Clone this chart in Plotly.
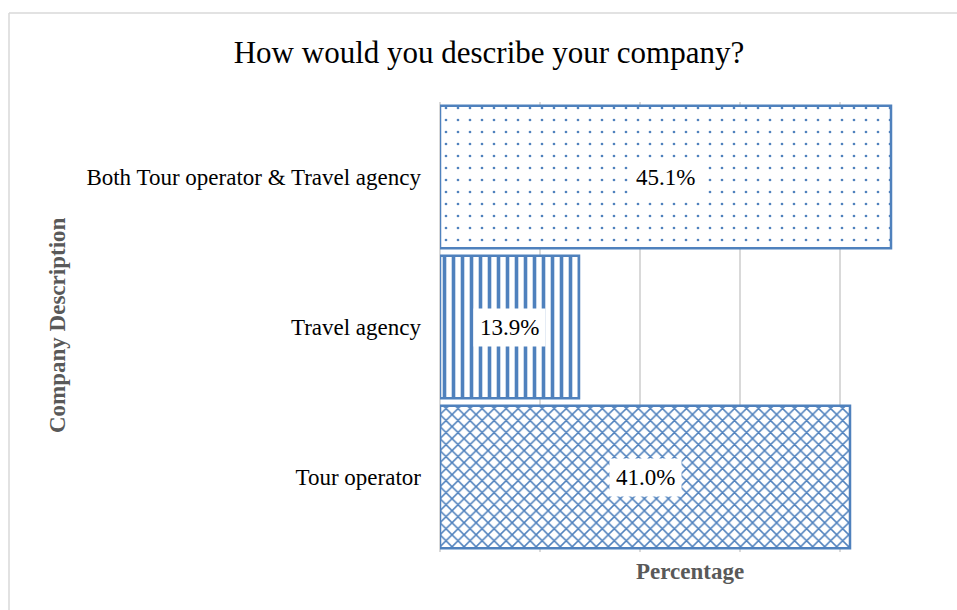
import plotly.graph_objects as go

# Survey responses: share of companies by self-description (%)
categories = ["Tour operator", "Travel agency", "Both Tour operator & Travel agency"]
shares = [41.0, 13.9, 45.1]
patterns = ["x", "|", "."]

title_text = "How would you describe your company?"
x_title = "Percentage"
y_title = "Company Description"

BLUE = "#4F81BD"
GRID = "#D9D9D9"
AXIS_GREY = "#595959"
SERIF = "Liberation Serif, Times New Roman, serif"

W, H = 957, 610
L, R, T, B = 440, 17, 102, 58
plot_w = W - L - R
plot_h = H - T - B


def px_to_paper_x(px):
    return (px - L) / plot_w


def px_to_paper_y(py):
    return (H - B - py) / plot_h


fig = go.Figure()
fig.add_trace(go.Bar(
    y=categories,
    x=shares,
    orientation="h",
    marker=dict(
        color="white",
        line=dict(color=BLUE, width=2.5),
        pattern=dict(
            shape=patterns,
            fgcolor=BLUE,
            fgopacity=1,
            bgcolor="white",
            size=[8.5, 9, 12],
            solidity=[0.32, 0.4, 0.04],
        ),
    ),
    hoverinfo="skip",
    showlegend=False,
))

# Value labels in white boxes at the middle of each bar
for cat, val in zip(categories, shares):
    fig.add_annotation(
        x=val / 2, y=cat, xref="x", yref="y",
        text=f"{val:.1f}%", showarrow=False,
        xanchor="center", yanchor="middle",
        font=dict(family=SERIF, size=23, color="#000000"),
        bgcolor="white", borderpad=6,
    )

# Axis titles
fig.add_annotation(
    x=px_to_paper_x(57), y=px_to_paper_y(325), xref="paper", yref="paper",
    xanchor="center", yanchor="middle",
    text=f"<b>{y_title}</b>", textangle=-90, showarrow=False,
    font=dict(family=SERIF, size=23, color=AXIS_GREY),
)
fig.add_annotation(
    x=0.5, y=px_to_paper_y(571), xref="paper", yref="paper",
    xanchor="center", yanchor="middle",
    text=f"<b>{x_title}</b>", showarrow=False,
    font=dict(family=SERIF, size=23, color=AXIS_GREY),
)

# Chart area frame
frame = dict(color=GRID, width=1.5)
fig.add_shape(type="line", xref="paper", yref="paper",
              x0=px_to_paper_x(9), x1=px_to_paper_x(9),
              y0=px_to_paper_y(620), y1=px_to_paper_y(13), line=frame)
fig.add_shape(type="line", xref="paper", yref="paper",
              x0=px_to_paper_x(9), x1=px_to_paper_x(970),
              y0=px_to_paper_y(13), y1=px_to_paper_y(13), line=frame)

fig.update_layout(
    width=W, height=H,
    margin=dict(l=L, r=R, t=T, b=B, pad=0),
    paper_bgcolor="white", plot_bgcolor="white",
    bargap=0.05,
    title=dict(
        text=title_text, x=px_to_paper_x(489), xref="paper", xanchor="center",
        y=1 - 52 / H, yref="container", yanchor="middle",
        font=dict(family=SERIF, size=31, color="#000000"),
    ),
    xaxis=dict(
        range=[0, 50], dtick=10, showticklabels=False,
        showgrid=True, gridcolor=GRID, gridwidth=1.5,
        zeroline=True, zerolinecolor=GRID, zerolinewidth=1.5,
        showline=False, fixedrange=True,
    ),
    yaxis=dict(
        showgrid=False, zeroline=False, showline=False,
        ticks="", ticklabelstandoff=18,
        tickfont=dict(family=SERIF, size=23, color="#000000"),
        fixedrange=True,
    ),
)

fig.write_html("out.html")
